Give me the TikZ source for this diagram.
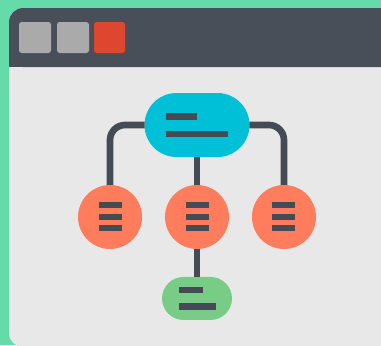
\documentclass[tikz,border=0pt]{standalone}
\usetikzlibrary{positioning, shapes.misc}
\definecolor{mintbg}{RGB}{102,219,170}
\definecolor{titlebar}{RGB}{73,79,89}
\definecolor{pagegray}{RGB}{232,232,232}
\definecolor{btngray}{RGB}{170,170,170}
\definecolor{btnred}{RGB}{222,70,48}
\definecolor{rootcyan}{RGB}{0,192,216}
\definecolor{childorange}{RGB}{255,124,92}
\definecolor{leafgreen}{RGB}{120,204,134}
\definecolor{bardark}{RGB}{69,75,85}
\tikzset{
    x=0.02cm, y=-0.02cm, % one unit is one pixel of the reference
    every node/.style={inner sep=0pt, outer sep=0pt}, % nodes are plain shapes
    node distance=0.56cm, % gap between the levels of the tree
    root/.style={rounded rectangle, fill=rootcyan, minimum width=2.1cm, minimum height=1.28cm},
    child/.style={circle, fill=childorange, minimum size=1.28cm},
    leaf/.style={rounded rectangle, fill=leafgreen, minimum width=1.4cm, minimum height=0.86cm},
    link/.style={draw=bardark, line width=3.8pt, rounded corners=0.3cm},
    button/.style={rounded corners=1.5pt},
}

\begin{document}
\begin{tikzpicture}
    % background and window
    \fill[mintbg] (0,0) rectangle (381,345);
    \useasboundingbox (0,0) rectangle (381,345);
    \fill[pagegray, rounded corners=8] (9,8) rectangle (395,347);
    \fill[titlebar, rounded corners=8] (9,8) -- (395,8) -- (395,67) -- (9,67) -- cycle;
    \fill[titlebar] (9,30) rectangle (395,67);
    \fill[btngray, button] (19,22) rectangle (51,53);
    \fill[btngray, button] (57,22) rectangle (89,53);
    \fill[btnred, button] (94,22) rectangle (125,53);

    % the tree
    \node[root] (top) at (197,125) {};
    \node[child, below=of top] (mid) {};
    \node[child, left=0.46cm of mid] (lft) {};
    \node[child, right=0.46cm of mid] (rgt) {};
    \node[leaf, below=of mid] (low) {};

    \draw[link] (top.west) -| (lft.north);
    \draw[link] (top.east) -| (rgt.north);
    \draw[link] (top.south) -- (mid.north);
    \draw[link] (mid.south) -- (low.north);

    % text bars
    \fill[bardark] ([shift={(-31,-12)}]top.center) rectangle ++(31,7);
    \fill[bardark] ([shift={(-31,6)}]top.center) rectangle ++(62,6);
    \foreach \n in {lft, mid, rgt}
        \foreach \dy in {-14.5, -3, 8.5}
            \fill[bardark] ([shift={(-11.5,\dy)}]\n.center) rectangle ++(23,6);
    \fill[bardark] ([shift={(-18,-11)}]low.center) rectangle ++(24,6);
    \fill[bardark] ([shift={(-18,5)}]low.center) rectangle ++(37,7);
\end{tikzpicture}
\end{document}
